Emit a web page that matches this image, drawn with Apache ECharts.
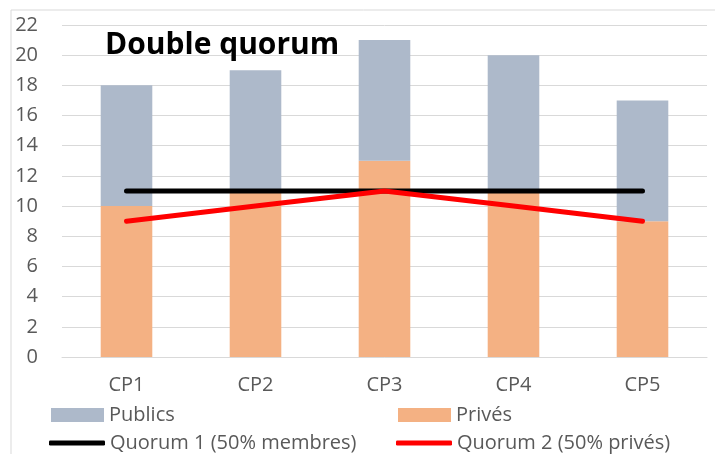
<!DOCTYPE html>
<html><head><meta charset="utf-8">
<script src="https://cdn.jsdelivr.net/npm/echarts@6/dist/echarts.min.js"></script>
<style>html,body{margin:0;padding:0;background:#fff}#c{width:715px;height:454px}</style>
</head><body><div id="c"></div>
<script>
const categories = ['CP1','CP2','CP3','CP4','CP5'];
const prives = [10, 11, 13, 11, 9];
const publics = [8, 8, 8, 9, 8];
const quorum1 = [11, 11, 11, 11, 11];
const quorum2 = [9, 10, 11, 10, 9];
const yTicks = {min: 0, max: 22, interval: 2};

const FONT = 'Open Sans';
const legText = {fontFamily: FONT, fontSize: 20, color: '#595959'};
function leg(name, left, top, color, isLine) {
  return {left: left, top: top, itemWidth: isLine ? 56 : 53, itemHeight: isLine ? 5 : 14, itemGap: 0,
    icon: isLine ? 'roundRect' : 'rect', data: [name], textStyle: legText,
    itemStyle: {color: color}, lineStyle: {color: color, width: 0}};
}
const chart = echarts.init(document.getElementById('c'));
chart.setOption({
  animation: false,
  textStyle: {fontFamily: FONT},
  graphic: [{type:'rect', shape:{x:11,y:10,width:720,height:460}, style:{fill:'none', stroke:'#d9d9d9', lineWidth:1}, silent:true}],
  title: {text: 'Double quorum', left: 100, top: 25, textStyle: {fontFamily: FONT, fontWeight: 'bold', fontSize: 30, color: '#000'}},
  grid: {left: 62, top: 25, width: 645, height: 332},
  legend: [
    leg('Publics', 46, 400, '#ADB9CA', false),
    leg('Quorum 1 (50% membres)', 44, 428, '#000', true),
    leg('Privés', 393, 400, '#F4B183', false),
    leg('Quorum 2 (50% privés)', 391, 428, '#ff0000', true)
  ],
  xAxis: {type: 'category', data: categories, axisTick: {show: false},
    axisLine: {lineStyle: {color: '#d9d9d9', width: 1}},
    axisLabel: {color: '#595959', fontSize: 20, margin: 18, fontFamily: FONT}},
  yAxis: {type: 'value', min: yTicks.min, max: yTicks.max, interval: yTicks.interval,
    axisLine: {show: false}, axisTick: {show: false},
    splitLine: {lineStyle: {color: '#d9d9d9', width: 1}},
    axisLabel: {color: '#595959', fontSize: 20, margin: 24, fontFamily: FONT}},
  series: [
    {name: 'Privés', type: 'bar', stack: 's', data: prives, barWidth: '40%', itemStyle: {color: '#F4B183'}},
    {name: 'Publics', type: 'bar', stack: 's', data: publics, barWidth: '40%', itemStyle: {color: '#ADB9CA'}},
    {name: 'Quorum 1 (50% membres)', type: 'line', data: quorum1, symbol: 'none', lineStyle: {color: '#000', width: 5, cap: 'round'}, itemStyle:{color:'#000'}},
    {name: 'Quorum 2 (50% privés)', type: 'line', data: quorum2, symbol: 'none', lineStyle: {color: '#ff0000', width: 5, cap: 'round'}, itemStyle:{color:'#ff0000'}}
  ]
});
</script></body></html>
